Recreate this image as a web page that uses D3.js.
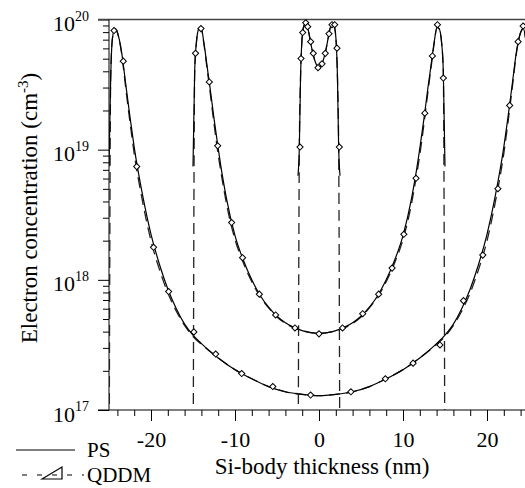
<!DOCTYPE html>
<html>
<head>
<meta charset="utf-8">
<script src="https://cdn.jsdelivr.net/npm/d3@7"></script>
<style>
body{margin:0;background:#fff;}
text{font-family:"Liberation Serif",Tinos,"Times New Roman",Times,"DejaVu Serif","Noto Serif",serif;fill:#000;}
</style>
</head>
<body>
<div id="chart"></div>
<script>
// positions across the Si body (nm) and log10 of electron concentration (cm^-3)
// 50 nm body
var x50 = [-25,-24.8,-24.6,-24.3,-24,-23.5,-23,-22.5,-22,-21,-20,-19,-18,-17,-16,-15,-14,-12,-10,-8,-6,-4,-2,
  0,2,4,6,8,10,12,14,15,16,17,18,19,20,21,22,22.5,23,23.5,24,24.3,24.6,24.8,25];
var ps50 = [18.87,19.55,19.85,19.93,19.90,19.75,19.50,19.25,19.02,18.65,18.35,18.12,17.93,17.78,17.66,17.575,17.51,17.40,17.31,17.24,17.18,17.14,17.12,
  17.11,17.12,17.14,17.18,17.24,17.31,17.40,17.51,17.575,17.66,17.78,17.93,18.12,18.35,18.65,19.02,19.25,19.50,19.75,19.90,19.93,19.85,19.55,18.87];
var qd50 = [16,19.55,19.85,19.93,19.90,19.74,19.47,19.21,18.97,18.60,18.30,18.08,17.90,17.76,17.65,17.565,17.505,17.40,17.31,17.24,17.18,17.14,17.12,
  17.11,17.12,17.14,17.18,17.24,17.31,17.40,17.505,17.565,17.65,17.76,17.90,18.08,18.30,18.60,18.97,19.21,19.47,19.74,19.90,19.93,19.85,19.55,16];
var mk50x = [-24.4,-23.3,-21.7,-19.7,-17.9,-14.9,-12.3,-9.2,-5.5,-1.0,3.8,7.9,11.2,14.4,17.2,19.5,21.3,22.7,23.7,24.3];
var mk50y = [19.915,19.68,18.87,18.25,17.91,17.6,17.43,17.28,17.18,17.115,17.14,17.24,17.36,17.5,17.84,18.19,18.7,19.34,19.83,19.95];

// 30 nm body
var x30 = [-15,-14.8,-14.6,-14.3,-14.05,-13.7,-13.3,-13,-12.5,-12,-11.5,-11,-10,-9,-8,-7,-6,-5,-4,-3,-2,-1,
  0,1,2,3,4,5,6,7,8,9,10,11,11.5,12,12.5,13,13.3,13.7,14.05,14.3,14.6,14.8,15];
var ps30 = [18.87,19.6,19.82,19.93,19.94,19.82,19.63,19.49,19.24,19.01,18.80,18.62,18.34,18.15,18.00,17.88,17.79,17.72,17.67,17.635,17.61,17.595,
  17.59,17.595,17.61,17.635,17.67,17.72,17.79,17.88,18.00,18.15,18.34,18.62,18.80,19.01,19.24,19.49,19.63,19.82,19.94,19.93,19.82,19.6,18.87];
var qd30 = [16,19.6,19.82,19.93,19.94,19.81,19.61,19.46,19.20,18.96,18.76,18.58,18.31,18.13,17.985,17.87,17.785,17.715,17.665,17.63,17.61,17.595,
  17.59,17.595,17.61,17.63,17.665,17.715,17.785,17.87,17.985,18.13,18.31,18.58,18.76,18.96,19.20,19.46,19.61,19.81,19.94,19.93,19.82,19.6,16];
var mk30x = [-14.7,-14.05,-13.06,-12.06,-10.4,-9.1,-7.1,-5.16,-2.86,0,2.8,5.2,7.1,8.7,10.1,11.55,12.6,13.5,14.1,14.8];
var mk30y = [19.74,19.93,19.52,19.03,18.44,18.17,17.89,17.73,17.63,17.585,17.63,17.74,17.89,18.09,18.35,18.78,19.28,19.72,19.96,19.55];

// 5 nm body
var x5 = [-2.5,-2.34,-2.2,-2.05,-1.85,-1.6,-1.35,-1.1,-0.8,-0.5,-0.2,0,0.2,0.5,0.8,1.1,1.35,1.6,1.85,2.05,2.2,2.34,2.5];
var ps5 = [18.8,19.02,19.55,19.82,19.94,19.97,19.94,19.86,19.76,19.685,19.64,19.63,19.64,19.685,19.76,19.86,19.94,19.97,19.94,19.82,19.55,19.02,18.8];
var qd5 = [16,19.02,19.55,19.82,19.94,19.97,19.94,19.86,19.76,19.685,19.64,19.63,19.64,19.685,19.76,19.86,19.94,19.97,19.94,19.82,19.55,19.02,16];
var mk5x = [-2.26,-2.14,-1.94,-1.58,-1.35,-0.99,-0.68,-0.12,0.36,0.75,1.19,1.55,1.87,2.14,2.42];
var mk5y = [19.02,19.70,19.90,19.975,19.945,19.83,19.74,19.63,19.66,19.74,19.89,19.96,19.96,19.78,19.02];

var xTicks = [-20,-10,0,10,20];
var yTicks = [1e17,1e18,1e19,1e20];
var yTickExp = ["17","18","19","20"];
var legendNames = ["PS","QDDM"];

var w = 525, h = 488;
var pLeft = 109, pRight = 529, pTop = 19.5, pBottom = 410;

var svg = d3.select("#chart").append("svg")
  .attr("width", w)
  .attr("height", h);
svg.append("rect").attr("width", w).attr("height", h).attr("fill", "#fff");

var x = d3.scaleLinear().domain([-25,25]).range([pLeft,pRight]);
var y = d3.scaleLog().domain([1e17,1e20]).range([pBottom,pTop]);

//minor ticks
var xMinor = d3.range(-24,25,2).filter(function(d){return d%10!==0;});
var yMinor = [];
for(var k=17;k<20;k++){
  for(var m=2;m<10;m++) yMinor.push(m*Math.pow(10,k));
}

var gx = svg.append("g").attr("transform","translate(0,"+pBottom+")");
gx.call(d3.axisBottom(x).tickValues(xMinor).tickSize(6).tickFormat(""));
gx.append("g").call(d3.axisBottom(x).tickValues(xTicks).tickSize(11).tickPadding(10).tickFormat(function(d){return String(d);}));
gx.selectAll(".domain").remove();
gx.selectAll("g").attr("font-family",null).attr("font-size",22);
gx.selectAll(".tick line").attr("stroke","#000");
gx.selectAll(".tick text").attr("fill","#000");

var gy = svg.append("g").attr("transform","translate("+pLeft+",0)");
gy.call(d3.axisLeft(y).tickValues(yMinor).tickSize(6).tickFormat(""));
var gyMajor = gy.append("g").call(d3.axisLeft(y).tickValues(yTicks).tickSize(11).tickFormat(""));
gy.selectAll(".domain").remove();
gy.selectAll("g").attr("font-family",null);
gy.selectAll(".tick line").attr("stroke","#000");
gyMajor.selectAll(".tick").each(function(d,i){
  var t = d3.select(this).append("text")
    .attr("x",-20)
    .attr("y",11)
    .attr("text-anchor","end")
    .attr("fill","#000")
    .attr("font-size","22px");
  t.append("tspan").text("10");
  t.append("tspan").attr("font-size","14px").attr("dy",-10.5).text(yTickExp[i]);
});

// frame lines
svg.append("line").attr("x1",98).attr("x2",w).attr("y1",pTop).attr("y2",pTop).attr("stroke","#444").attr("stroke-width",1.3);
svg.append("line").attr("x1",98).attr("x2",w).attr("y1",pBottom).attr("y2",pBottom).attr("stroke","#000");
svg.append("line").attr("x1",pLeft).attr("x2",pLeft).attr("y1",pTop).attr("y2",pBottom).attr("stroke","#000");

svg.append("clipPath").attr("id","plotclip")
  .append("rect").attr("x",pLeft).attr("y",pTop-5).attr("width",pRight-pLeft).attr("height",pBottom-pTop+5);

var plot = svg.append("g").attr("clip-path","url(#plotclip)");

var line = d3.line()
  .x(function(d){return x(d[0]);})
  .y(function(d){return y(Math.pow(10,d[1]));})
  .curve(d3.curveMonotoneX);

function pairs(xs,vs){
  return xs.map(function(v,i){return [v,vs[i]];});
}

var curves = [[x50,ps50,qd50,mk50x,mk50y],[x30,ps30,qd30,mk30x,mk30y],[x5,ps5,qd5,mk5x,mk5y]];

curves.forEach(function(c){
  plot.append("path")
    .attr("d",line(pairs(c[0],c[2])))
    .attr("fill","none")
    .attr("stroke","#222")
    .attr("stroke-width",1.3)
    .attr("stroke-dasharray","11,6");
  plot.append("path")
    .attr("d",line(pairs(c[0],c[1])))
    .attr("fill","none")
    .attr("stroke","#000")
    .attr("stroke-width",1.2);
});

var diamond = d3.symbol().type(d3.symbolSquare).size(19);
curves.forEach(function(c){
  plot.selectAll(null)
    .data(pairs(c[3],c[4]))
    .enter().append("path")
    .attr("d",diamond)
    .attr("transform",function(d){return "translate("+x(d[0])+","+y(Math.pow(10,d[1]))+") rotate(45)";})
    .attr("fill","#fff")
    .attr("stroke","#000")
    .attr("stroke-width",1);
});

// axis titles
svg.append("text")
  .attr("x",322)
  .attr("y",474)
  .attr("text-anchor","middle")
  .attr("font-size","23px")
  .text("Si-body thickness (nm)");

var yt = svg.append("text")
  .attr("transform","translate(37,208) rotate(-90)")
  .attr("text-anchor","middle")
  .attr("font-size","23px");
yt.append("tspan").text("Electron concentration (cm");
yt.append("tspan").attr("font-size","15px").attr("dy",-9).text("-3");
yt.append("tspan").attr("dy",9).text(")");

// legend
svg.append("line").attr("x1",16).attr("x2",75).attr("y1",450).attr("y2",450).attr("stroke","#000").attr("stroke-width",1.2);
svg.append("text").attr("x",87).attr("y",457).attr("font-size","21px").text(legendNames[0]);
svg.append("line").attr("x1",22).attr("x2",84).attr("y1",475).attr("y2",475).attr("stroke","#000").attr("stroke-width",1.2).attr("stroke-dasharray","5,10");
svg.append("path").attr("d","M42,479L62,467L62,479Z").attr("fill","none").attr("stroke","#000").attr("stroke-width",1.2);
svg.append("text").attr("x",87).attr("y",482).attr("font-size","21px").text(legendNames[1]);
</script>
</body>
</html>
